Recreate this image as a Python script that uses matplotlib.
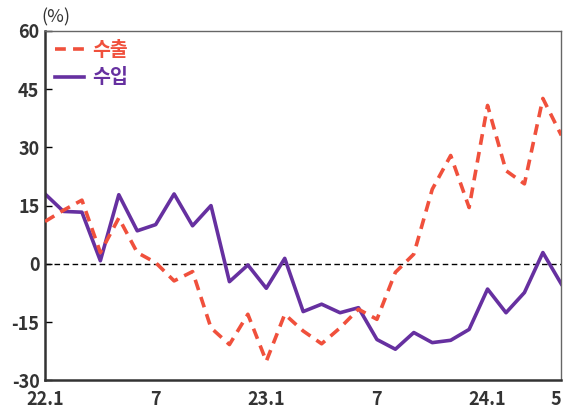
import matplotlib
matplotlib.use("Agg")
import matplotlib.pyplot as plt
import numpy as np

plt.rcParams['font.family'] = ['Noto Sans CJK KR', 'DejaVu Sans']

months = list(range(29))  # 22.1 .. 24.5
tick_pos = [0, 6, 12, 18, 24, 28]
tick_labels = ["22.1", "7", "23.1", "7", "24.1", "5"]

exports = [10.9, 13.8, 16.4, 2.9, 11.8, 2.9, 0.3, -4.4, -2.0, -16.5, -20.8, -13.0, -25.1, -13.0,
           -17.3, -20.6, -16.5, -11.7, -14.3, -2.2, 2.5, 19.2, 27.9, 14.5, 40.8, 24.0, 20.6, 42.6, 33.1]
imports = [18.0, 13.5, 13.3, 0.8, 17.8, 8.5, 10.1, 18.0, 9.8, 15.0, -4.6, -0.3, -6.3, 1.4,
           -12.3, -10.4, -12.6, -11.3, -19.5, -22.0, -17.7, -20.3, -19.7, -16.9, -6.5, -12.6, -7.4, 2.9, -5.2]

red = "#F0503C"
purple = "#6630A0"

fig = plt.figure(figsize=(5.63, 4.12), dpi=100)
ax = fig.add_axes([0.080, 0.077, 0.917, 0.848])

ax.axhline(0, color="black", lw=1.0, ls=(0, (4, 2.5)), zorder=1)
l1, = ax.plot(months, exports, color=red, lw=2.6, ls=(0, (3, 2)), label="수출", zorder=3)
l2, = ax.plot(months, imports, color=purple, lw=2.6, label="수입", zorder=2)

ax.set_xlim(0, 28)
ax.set_ylim(-30, 60)
ax.set_yticks([-30, -15, 0, 15, 30, 45, 60])
ax.set_yticklabels(["-30", "-15", "0", "15", "30", "45", "60"])
ax.set_xticks(tick_pos)
ax.set_xticklabels(tick_labels)

ax.tick_params(axis="y", direction="in", length=5, width=1, labelsize=13, pad=4)
ax.tick_params(axis="x", length=0, labelsize=13, pad=7)
for lab in ax.get_xticklabels() + ax.get_yticklabels():
    lab.set_fontweight("bold")
    lab.set_color("#333333")
ax.get_xticklabels()[-1].set_horizontalalignment("right")

for s in ["left", "bottom"]:
    ax.spines[s].set_linewidth(1.8)
    ax.spines[s].set_color("#333333")
for s in ["top", "right"]:
    ax.spines[s].set_linewidth(1.0)
    ax.spines[s].set_color("#666666")

leg = ax.legend(handles=[l1, l2], loc="upper left", frameon=False, fontsize=14,
                handlelength=1.5, handletextpad=0.4, labelspacing=0.45,
                borderaxespad=0.1, bbox_to_anchor=(0.0, 1.0))
for t, c in zip(leg.get_texts(), [red, purple]):
    t.set_color(c)
    t.set_fontweight("bold")

fig.text(0.074, 0.935, "(%)", fontsize=13, color="#333333", va="bottom", ha="left")

fig.savefig("out.png", dpi=100)
